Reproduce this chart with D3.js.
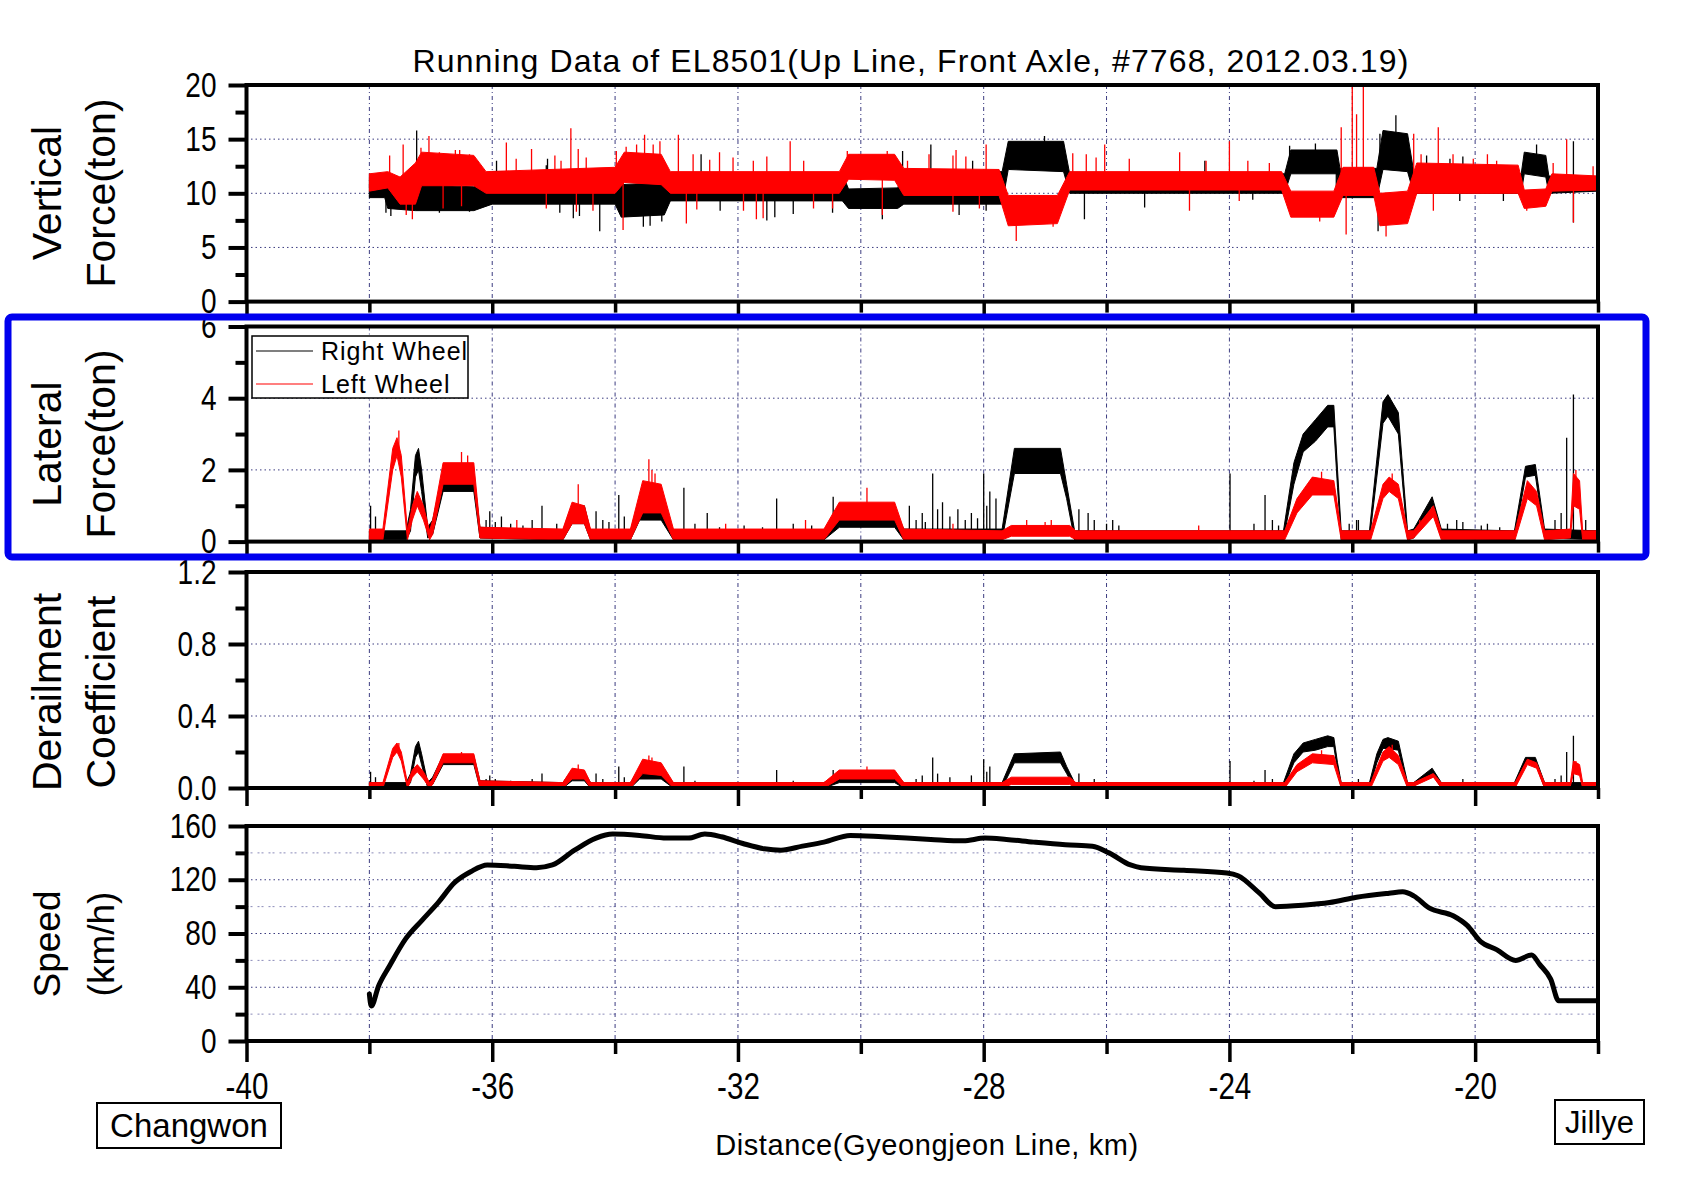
<!DOCTYPE html>
<html><head><meta charset="utf-8">
<script src="https://cdn.jsdelivr.net/npm/d3@7"></script>
<style>
html,body{margin:0;padding:0;background:#fff;}
svg{display:block;}
text{font-family:"Liberation Sans", Arial, Helvetica, sans-serif;fill:#000;}
</style></head><body>
<svg id="chart" width="1695" height="1189"></svg>
<script>
// ---------- tick labels / axes ----------
const xMajor = [-40, -36, -32, -28, -24, -20];
const xMinor = [-38, -34, -30, -26, -22, -18];
const xGrid = [-38, -36, -34, -32, -30, -28, -26, -24, -22, -20];

// ---------- Vertical force (ton): Right wheel (black) band ----------
const vfRKm = [-38, -37.75, -37.7, -37.25, -36.3, -36.0, -34.0, -33.9, -33.2, -33.1, -30.3, -30.2, -29.4, -29.3, -27.7, -27.6, -26.7, -26.6, -23.1, -23.0, -22.25, -22.2, -21.6, -21.5, -21.1, -21.0, -19.25, -19.2, -18.85, -18.8, -18.0];
const vfRLo = [9.6, 9.6, 8.6, 8.4, 8.4, 9.0, 9.0, 7.8, 8.0, 9.3, 9.3, 8.6, 8.6, 9.0, 9.0, 12.2, 12.0, 10.0, 10.0, 11.8, 11.8, 9.6, 9.6, 12.2, 12.0, 10.0, 10.0, 11.8, 11.5, 10.0, 10.2];
const vfRHi = [11.5, 11.5, 10.6, 10.8, 10.6, 12.0, 12.0, 10.8, 11.0, 11.8, 11.8, 10.4, 10.5, 12.0, 12.0, 14.8, 14.8, 11.8, 11.8, 14.0, 14.0, 12.3, 12.3, 15.8, 15.5, 12.0, 11.8, 13.8, 13.5, 11.6, 11.4];
const vfRSpikeKm = [-37.23, -36.9, -35.93, -35.1, -34.25, -33.54, -32.6, -31.4, -28.86, -27.01, -26.36, -29.65, -24.4, -22.6, -21.29, -21.58, -20.2, -18.4, -18.4, -36.23, -35.12, -37.73, -37.65, -36.86, -36.37, -34.9, -34.68, -34.58, -33.43, -33.24, -32.29, -31.53, -31.1, -29.32, -28.18, -30.46, -28.4, -27.96, -25.38, -23.02, -21.55, -20.79, -20.41, -19.0, -23.62, -22.26, -20.25, -19.54];
const vfRSpikeVal = [15.8, 13.5, 13.0, 13.2, 6.5, 6.9, 13.6, 7.8, 14.5, 15.3, 7.6, 7.6, 13.0, 14.6, 17.2, 6.5, 13.4, 14.8, 7.3, 12.9, 12.6, 8.2, 7.9, 8.2, 8.3, 8.2, 7.7, 7.9, 7.0, 7.4, 8.4, 7.5, 8.1, 13.9, 13.0, 8.2, 8.0, 8.4, 8.7, 14.4, 15.5, 13.5, 13.2, 14.5, 9.4, 9.0, 9.3, 9.3];
// Left wheel (red)
const vfLKm = [-38, -37.7, -37.5, -37.25, -37.15, -36.3, -36.1, -34.0, -33.85, -33.25, -33.1, -30.35, -30.2, -29.45, -29.3, -27.75, -27.6, -26.8, -26.6, -23.15, -23.0, -22.3, -22.15, -21.65, -21.55, -21.1, -20.95, -19.3, -19.2, -18.85, -18.75, -18.0];
const vfLLo = [10.2, 10.5, 9.0, 9.0, 10.7, 10.7, 10.0, 10.0, 11.0, 10.8, 10.0, 10.0, 11.3, 11.2, 9.8, 9.8, 7.0, 7.2, 10.3, 10.3, 7.8, 7.8, 9.8, 9.8, 7.0, 7.2, 10.0, 10.0, 8.6, 8.8, 10.2, 10.3];
const vfLHi = [11.8, 12.0, 11.5, 12.8, 13.8, 13.5, 12.0, 12.4, 13.8, 13.6, 12.0, 12.0, 13.6, 13.6, 12.3, 12.2, 9.8, 9.8, 12.0, 12.0, 10.2, 10.2, 12.4, 12.4, 10.0, 10.2, 12.8, 12.6, 10.3, 10.4, 11.8, 11.6];
const vfLSpikeKm = [-37.45, -37.03, -36.6, -35.77, -35.36, -34.72, -34.6, -33.98, -33.52, -32.97, -32.3, -31.15, -29.57, -28.5, -27.96, -26.03, -24.81, -24.0, -22.18, -22.0, -21.93, -21.82, -21.0, -20.6, -19.8, -18.51,
  -37.67, -37.16, -36.86, -36.72, -36.53, -36.37, -35.61, -34.98, -34.88, -34.47, -33.82, -33.65, -33.38, -33.27, -32.73, -32.46, -32.08, -31.75, -31.53, -30.93, -30.22, -30.03, -29.24, -28.89, -28.45, -28.29, -26.55, -26.33, -26.17, -25.63, -24.38, -23.7, -23.35, -20.88, -20.36, -20.03, -19.65, -18.73, -18.08,
  -37.3, -33.87, -32.84, -31.7, -27.47, -24.65, -22.1, -19.16, -37.4, -36.8, -36.5, -35.12, -34.63, -34.36, -32.67, -31.91, -31.59, -30.77, -30.46, -29.65, -28.5, -28.07, -26.87, -23.84, -23.02, -22.53, -21.45, -20.68, -18.4];
const vfLSpikeVal = [14.5, 15.3, 14.0, 14.7, 14.1, 16.0, 14.1, 13.9, 15.4, 15.4, 13.8, 14.8, 13.9, 13.5, 14.5, 14.5, 13.8, 14.8, 16.1, 21, 17.3, 21, 15.5, 16.1, 13.6, 15.0,
  13.5, 14.2, 13.8, 13.4, 14.0, 13.6, 13.2, 13.5, 13.0, 13.3, 14.3, 14.5, 14.5, 14.8, 13.6, 13.1, 13.3, 13.0, 13.4, 13.0, 13.9, 13.6, 13.0, 13.6, 14.0, 13.4, 13.7, 13.6, 13.3, 13.2, 13.0, 13.0, 12.8, 13.6, 13.6, 13.2, 13.0, 12.8, 12.5,
  7.6, 6.6, 7.2, 7.6, 5.6, 8.4, 6.2, 8.4, 8.0, 8.6, 8.8, 8.6, 8.3, 8.4, 8.5, 8.4, 7.7, 8.6, 8.6, 8.0, 8.3, 8.6, 6.9, 9.3, 8.4, 7.4, 6.0, 8.4, 7.3];

// ---------- Lateral force (ton) ----------
const latRKm = [-38.0, -37.4, -37.33, -37.25, -37.2, -37.15, -37.05, -36.97, -36.8, -36.3, -36.2, -34.85, -34.7, -34.5, -34.4, -33.75, -33.6, -33.25, -33.05, -30.6, -30.35, -29.45, -29.3, -27.7, -27.5, -26.75, -26.65, -26.52, -23.12, -22.95, -22.8, -22.6, -22.4, -22.3, -22.24, -22.18, -21.72, -21.6, -21.5, -21.42, -21.25, -21.16, -21.1, -21.0, -20.7, -20.55, -19.36, -19.18, -19.02, -18.87, -18.0];
const latRLo = [0.05, 0.05, 0.3, 1.8, 2.0, 1.4, 0.1, 0.2, 1.4, 1.4, 0.1, 0.05, 0.5, 0.5, 0.05, 0.05, 0.6, 0.6, 0.05, 0.05, 0.4, 0.4, 0.05, 0.05, 1.9, 1.9, 1.2, 0.05, 0.05, 1.6, 2.5, 2.8, 3.2, 3.2, 1.5, 0.05, 0.05, 1.8, 3.3, 3.5, 3.0, 1.2, 0.05, 0.1, 1.0, 0.1, 0.05, 1.8, 1.85, 0.1, 0.05];
const latRHi = [0.3, 0.3, 0.9, 2.4, 2.6, 2.0, 0.4, 0.6, 1.9, 1.9, 0.4, 0.3, 1.0, 1.0, 0.3, 0.3, 1.2, 1.1, 0.3, 0.3, 0.9, 0.9, 0.35, 0.35, 2.6, 2.6, 1.6, 0.3, 0.3, 2.2, 3.0, 3.4, 3.8, 3.8, 2.0, 0.3, 0.3, 2.3, 3.9, 4.1, 3.6, 1.6, 0.3, 0.35, 1.25, 0.35, 0.3, 2.1, 2.15, 0.35, 0.3];
const latRSpikeKm = [-37.98, -36.04, -35.85, -35.19, -34.31, -33.94, -32.88, -32.5, -31.37, -30.45, -29.21, -28.83, -28.67, -28.42, -28.0, -27.9, -27.8, -26.3, -25.9, -23.99, -23.42, -21.93, -20.3, -19.8, -18.51, -18.4,
  -37.9, -36.1, -35.95, -35.7, -35.5, -35.35, -34.95, -34.2, -34.1, -33.85, -32.7, -32.3, -31.9, -31.6, -31.1, -30.8, -29.1, -29.0, -28.95, -28.75, -28.55, -28.3, -28.2, -28.1, -27.95, -26.45, -26.2, -26.0, -25.8, -23.6, -23.3, -23.2, -22.05, -21.9, -20.9, -20.45, -20.2, -19.9, -19.6, -18.7, -18.6, -18.2];
const latRSpikeVal = [1.0, 0.85, 0.7, 1.0, 0.85, 1.3, 1.5, 0.8, 1.2, 1.25, 1.0, 1.9, 1.1, 0.9, 1.9, 1.4, 1.2, 0.8, 0.6, 1.9, 1.3, 0.6, 0.6, 0.5, 2.9, 4.1,
  0.7, 0.6, 0.55, 0.5, 0.45, 0.6, 0.5, 0.6, 0.55, 0.7, 0.5, 0.4, 0.45, 0.4, 0.5, 0.45, 0.6, 0.8, 0.55, 0.9, 0.7, 0.6, 0.8, 0.65, 1.0, 0.9, 0.6, 0.5, 0.45, 0.5, 0.6, 0.45, 0.5, 0.6, 0.6, 0.5, 0.55, 0.45, 0.4, 0.6, 0.8, 0.6];
const latLKm = [-38.0, -37.78, -37.62, -37.55, -37.48, -37.38, -37.3, -37.22, -37.12, -37.02, -36.97, -36.8, -36.3, -36.2, -34.85, -34.7, -34.5, -34.4, -33.75, -33.55, -33.25, -33.05, -30.6, -30.35, -29.45, -29.3, -27.7, -27.55, -26.6, -26.5, -23.1, -22.9, -22.65, -22.3, -22.18, -21.7, -21.5, -21.4, -21.25, -21.1, -21.0, -20.68, -20.55, -19.35, -19.15, -19.0, -18.87, -18.45, -18.4, -18.3, -18.25, -18.0];
const latLLo = [0.05, 0.05, 2.0, 2.4, 1.8, 0.05, 0.6, 1.0, 0.6, 0.05, 0.2, 1.6, 1.6, 0.1, 0.05, 0.5, 0.5, 0.05, 0.05, 0.8, 0.8, 0.05, 0.05, 0.6, 0.6, 0.05, 0.05, 0.15, 0.15, 0.05, 0.05, 0.8, 1.3, 1.3, 0.05, 0.05, 1.2, 1.4, 1.2, 0.05, 0.1, 0.7, 0.05, 0.05, 1.2, 1.0, 0.05, 0.1, 1.0, 0.9, 0.05, 0.05];
const latLHi = [0.35, 0.35, 2.6, 2.9, 2.4, 0.3, 1.0, 1.4, 1.0, 0.3, 0.6, 2.2, 2.2, 0.4, 0.35, 1.1, 1.0, 0.35, 0.35, 1.7, 1.6, 0.35, 0.35, 1.1, 1.1, 0.35, 0.3, 0.45, 0.45, 0.3, 0.3, 1.2, 1.8, 1.7, 0.3, 0.3, 1.6, 1.8, 1.6, 0.3, 0.3, 1.0, 0.3, 0.3, 1.7, 1.4, 0.3, 0.35, 1.9, 1.7, 0.3, 0.3];
const latLSpikeKm = [-37.52, -35.6, -34.6, -33.45, -32.2, -30.9, -29.9, -28.5, -26.9, -24.5, -20.9, -18.36, -36.5, -36.4, -33.4, -33.35, -27.3, -27.0, -22.5, -21.35];
const latLSpikeVal = [3.1, 0.6, 1.6, 2.3, 0.5, 0.6, 1.5, 0.5, 0.6, 0.45, 0.6, 2.0, 2.5, 2.4, 2.0, 1.9, 0.6, 0.55, 1.95, 1.9];

// ---------- Derailment coefficient ----------
const drRKm = [-38.0, -37.4, -37.33, -37.25, -37.2, -37.15, -37.05, -36.97, -36.8, -36.3, -36.2, -34.85, -34.7, -34.5, -34.4, -33.75, -33.6, -33.25, -33.05, -30.6, -30.35, -29.45, -29.3, -27.7, -27.5, -26.75, -26.65, -26.52, -23.12, -22.95, -22.8, -22.6, -22.4, -22.3, -22.24, -22.18, -21.72, -21.6, -21.5, -21.42, -21.25, -21.16, -21.1, -21.0, -20.7, -20.55, -19.36, -19.18, -19.02, -18.87, -18.0];
const drRLo = [0, 0, 0.03, 0.17, 0.2, 0.13, 0, 0.02, 0.13, 0.13, 0, 0, 0.04, 0.04, 0, 0, 0.05, 0.05, 0, 0, 0.03, 0.03, 0, 0, 0.14, 0.14, 0.08, 0, 0, 0.14, 0.2, 0.21, 0.23, 0.23, 0.1, 0, 0, 0.14, 0.22, 0.22, 0.21, 0.08, 0, 0.01, 0.08, 0, 0, 0.14, 0.14, 0, 0];
const drRHi = [0.03, 0.03, 0.08, 0.23, 0.26, 0.19, 0.03, 0.06, 0.18, 0.18, 0.04, 0.03, 0.1, 0.09, 0.03, 0.03, 0.11, 0.1, 0.03, 0.03, 0.08, 0.08, 0.03, 0.03, 0.19, 0.2, 0.12, 0.03, 0.03, 0.19, 0.25, 0.27, 0.29, 0.28, 0.14, 0.03, 0.03, 0.19, 0.27, 0.28, 0.26, 0.12, 0.03, 0.03, 0.11, 0.03, 0.03, 0.17, 0.17, 0.03, 0.03];
const drRSpikeKm = [-37.98, -36.04, -35.19, -34.31, -33.94, -32.88, -31.37, -30.45, -28.83, -28.0, -27.9, -23.99, -23.42, -18.51, -18.4,
  -37.9, -36.1, -35.95, -35.7, -35.35, -34.2, -33.85, -32.7, -31.1, -29.1, -29.0, -28.75, -28.55, -28.2, -27.95, -26.45, -26.2, -23.6, -23.3, -21.9, -20.9, -20.2, -18.7, -18.6];
const drRSpikeVal = [0.09, 0.07, 0.08, 0.08, 0.12, 0.12, 0.1, 0.1, 0.17, 0.16, 0.12, 0.15, 0.1, 0.2, 0.29,
  0.06, 0.05, 0.05, 0.04, 0.05, 0.05, 0.06, 0.04, 0.04, 0.05, 0.07, 0.08, 0.06, 0.07, 0.09, 0.08, 0.05, 0.04, 0.05, 0.05, 0.05, 0.05, 0.05, 0.07];
const drLKm = [-38.0, -37.78, -37.62, -37.55, -37.48, -37.38, -37.3, -37.22, -37.12, -37.02, -36.97, -36.8, -36.3, -36.2, -34.85, -34.7, -34.5, -34.4, -33.75, -33.55, -33.25, -33.05, -30.6, -30.35, -29.45, -29.3, -27.7, -27.55, -26.6, -26.5, -23.1, -22.9, -22.65, -22.3, -22.18, -21.7, -21.5, -21.4, -21.25, -21.1, -21.0, -20.68, -20.55, -19.35, -19.15, -19.0, -18.87, -18.45, -18.4, -18.3, -18.25, -18.0];
const drLLo = [0, 0, 0.17, 0.2, 0.15, 0, 0.06, 0.09, 0.05, 0, 0.02, 0.14, 0.14, 0, 0, 0.05, 0.05, 0, 0, 0.08, 0.07, 0, 0, 0.05, 0.05, 0, 0, 0.02, 0.02, 0, 0, 0.09, 0.14, 0.13, 0, 0, 0.15, 0.17, 0.13, 0, 0.01, 0.06, 0, 0, 0.13, 0.11, 0, 0.01, 0.08, 0.07, 0, 0];
const drLHi = [0.03, 0.03, 0.22, 0.25, 0.2, 0.03, 0.1, 0.13, 0.09, 0.03, 0.05, 0.19, 0.19, 0.04, 0.03, 0.11, 0.1, 0.03, 0.03, 0.16, 0.14, 0.03, 0.03, 0.1, 0.1, 0.03, 0.03, 0.06, 0.06, 0.03, 0.03, 0.13, 0.19, 0.18, 0.03, 0.03, 0.2, 0.23, 0.18, 0.03, 0.03, 0.08, 0.03, 0.03, 0.16, 0.14, 0.03, 0.03, 0.15, 0.13, 0.03, 0.03];
const drLSpikeKm = [-37.52, -34.6, -33.45, -29.9, -18.36, -36.5, -33.4, -22.5, -21.35];
const drLSpikeVal = [0.25, 0.13, 0.18, 0.12, 0.15, 0.2, 0.17, 0.21, 0.24];

// ---------- Speed (km/h) ----------
const speedKm = [-38.0, -37.97, -37.85, -37.67, -37.41, -37.14, -36.88, -36.61, -36.35, -36.08, -35.64, -35.28, -35.02, -34.66, -34.31, -34.04, -33.6, -33.16, -32.81, -32.54, -32.27, -31.92, -31.57, -31.3, -30.95, -30.6, -30.17, -29.65, -28.86, -28.33, -27.98, -27.63, -27.19, -26.67, -26.23, -25.96, -25.61, -25.44, -24.74, -24.04, -23.86, -23.51, -23.25, -22.81, -22.37, -21.93, -21.4, -21.18, -21.0, -20.75, -20.35, -20.13, -19.91, -19.65, -19.34, -19.08, -18.95, -18.77, -18.64, -18.03];
const speedVal = [35, 26, 41, 56, 76, 90, 103, 118, 126, 131, 130, 129, 131, 142, 151, 154, 153, 151, 151, 154, 152, 147, 143, 142, 145, 148, 153, 152, 150, 149, 151, 150, 148, 146, 145, 140, 131, 129, 127, 125, 123, 110, 100, 101, 103, 107, 110, 111, 108, 99, 93, 86, 74, 68, 60, 64, 57, 46, 30, 30];

const seriesNames = ["Right Wheel", "Left Wheel"];
const seriesColors = ["#000000", "#ff0000"];

// ---------- drawing ----------
const svg = d3.select('#chart');
const x = d3.scaleLinear().domain([-40, -18]).range([246.5, 1598]);
const NARROW = 0.8;

const panels = [
  {top: 85, bottom: 301.6, dom: [0, 20], major: [0, 5, 10, 15, 20], minor: [2.5, 7.5, 12.5, 17.5], grid: [5, 10, 15], gridMinor: [], fmt: d => String(d), title: ["Vertical", "Force(ton)"], tSize: 41, tY: 193},
  {top: 326.5, bottom: 541.6, dom: [0, 6], major: [0, 2, 4, 6], minor: [1, 3, 5], grid: [2, 4], gridMinor: [], fmt: d => String(d), title: ["Lateral", "Force(ton)"], tSize: 41, tY: 444},
  {top: 572, bottom: 788, dom: [0, 1.2], major: [0, 0.4, 0.8, 1.2], minor: [0.2, 0.6, 1.0], grid: [0.4, 0.8], gridMinor: [], fmt: d3.format('.1f'), title: ["Derailment", "Coefficient"], tSize: 41, tY: 692},
  {top: 826, bottom: 1041, dom: [0, 160], major: [0, 40, 80, 120, 160], minor: [20, 60, 100, 140], grid: [40, 80, 120], gridMinor: [20, 60, 100, 140], fmt: d => String(d), title: ["Speed", "(km/h)"], tSize: 37, tY: 944}
];

const defs = svg.append('defs');

function drawBand(g, y, km, lo, hi, color) {
  const pts = km.map((k, i) => [k, lo[i], hi[i]]);
  g.append('path')
    .attr('d', d3.area().x(d => x(d[0])).y0(d => y(d[1])).y1(d => y(d[2]))(pts))
    .attr('fill', color).attr('stroke', color).attr('stroke-width', 1).attr('stroke-linejoin', 'round');
}
function drawSpikes(g, y, sKm, sVal, km, lo, hi, color) {
  const mid = d3.scaleLinear().domain(km).range(km.map((k, i) => (lo[i] + hi[i]) / 2)).clamp(true);
  g.selectAll(null).data(sKm.map((k, i) => [k, sVal[i]])).join('line')
    .attr('x1', d => x(d[0])).attr('x2', d => x(d[0]))
    .attr('y1', d => y(mid(d[0]))).attr('y2', d => y(d[1]))
    .attr('stroke', color).attr('stroke-width', 1.3);
}

panels.forEach((p, idx) => {
  const y = d3.scaleLinear().domain(p.dom).range([p.bottom, p.top]);
  const g = svg.append('g');
  g.selectAll(null).data(p.gridMinor).join('line')
    .attr('x1', x(-40)).attr('x2', x(-18)).attr('y1', d => y(d)).attr('y2', d => y(d))
    .attr('stroke', '#8a8ab8').attr('stroke-width', 1).attr('stroke-dasharray', '2,2,2,5');
  g.selectAll(null).data(p.grid).join('line')
    .attr('x1', x(-40)).attr('x2', x(-18)).attr('y1', d => y(d)).attr('y2', d => y(d))
    .attr('stroke', '#3c3c80').attr('stroke-width', 1).attr('stroke-dasharray', '1.5,3');
  g.selectAll(null).data(xGrid).join('line')
    .attr('x1', d => x(d)).attr('x2', d => x(d)).attr('y1', p.top).attr('y2', p.bottom)
    .attr('stroke', '#3c3c80').attr('stroke-width', 1).attr('stroke-dasharray', '4,3,1,3');

  const cid = 'clip' + idx;
  defs.append('clipPath').attr('id', cid).append('rect')
    .attr('x', x(-40)).attr('y', p.top).attr('width', x(-18) - x(-40)).attr('height', p.bottom - p.top);
  const dg = g.append('g').attr('clip-path', `url(#${cid})`);

  if (idx === 0) {
    drawSpikes(dg, y, vfRSpikeKm, vfRSpikeVal, vfRKm, vfRLo, vfRHi, seriesColors[0]);
    drawBand(dg, y, vfRKm, vfRLo, vfRHi, seriesColors[0]);
    drawBand(dg, y, vfLKm, vfLLo, vfLHi, seriesColors[1]);
    drawSpikes(dg, y, vfLSpikeKm, vfLSpikeVal, vfLKm, vfLLo, vfLHi, seriesColors[1]);
  } else if (idx === 1) {
    drawSpikes(dg, y, latRSpikeKm, latRSpikeVal, latRKm, latRLo, latRHi, seriesColors[0]);
    drawBand(dg, y, latRKm, latRLo, latRHi, seriesColors[0]);
    drawBand(dg, y, latLKm, latLLo, latLHi, seriesColors[1]);
    drawSpikes(dg, y, latLSpikeKm, latLSpikeVal, latLKm, latLLo, latLHi, seriesColors[1]);
  } else if (idx === 2) {
    drawSpikes(dg, y, drRSpikeKm, drRSpikeVal, drRKm, drRLo, drRHi, seriesColors[0]);
    drawBand(dg, y, drRKm, drRLo, drRHi, seriesColors[0]);
    drawBand(dg, y, drLKm, drLLo, drLHi, seriesColors[1]);
    drawSpikes(dg, y, drLSpikeKm, drLSpikeVal, drLKm, drLLo, drLHi, seriesColors[1]);
  } else {
    const pts = speedKm.map((k, i) => [k, speedVal[i]]);
    dg.append('path').attr('d', d3.line().x(d => x(d[0])).y(d => y(d[1])).curve(d3.curveMonotoneX)(pts))
      .attr('fill', 'none').attr('stroke', '#000').attr('stroke-width', 5).attr('stroke-linejoin', 'round').attr('stroke-linecap', 'round');
  }

  g.append('rect').attr('x', x(-40)).attr('y', p.top).attr('width', x(-18) - x(-40)).attr('height', p.bottom - p.top)
    .attr('fill', 'none').attr('stroke', '#000').attr('stroke-width', 4);

  const ya = g.append('g').attr('transform', `translate(${x(-40)},0)`)
    .call(d3.axisLeft(y).tickValues(p.major).tickSize(18).tickPadding(12).tickFormat(p.fmt));
  const ym = g.append('g').attr('transform', `translate(${x(-40)},0)`)
    .call(d3.axisLeft(y).tickValues(p.minor).tickSize(11).tickFormat(''));
  [ya, ym].forEach(a => { a.select('.domain').remove(); a.selectAll('line').attr('stroke', '#000').attr('stroke-width', 4); });
  ya.selectAll('text').style('font-size', '35px').attr('fill', '#000')
    .attr('x', -30 / NARROW).attr('transform', `scale(${NARROW},1)`);

  const last = idx === panels.length - 1;
  const xa = g.append('g').attr('transform', `translate(0,${p.bottom})`)
    .call(d3.axisBottom(x).tickValues(xMajor).tickSize(last ? 21 : 18).tickPadding(11).tickFormat(last ? (d => String(d)) : ''));
  const xm = g.append('g').attr('transform', `translate(0,${p.bottom})`)
    .call(d3.axisBottom(x).tickValues(xMinor).tickSize(last ? 13 : 11).tickFormat(''));
  [xa, xm].forEach(a => { a.select('.domain').remove(); a.selectAll('line').attr('stroke', '#000').attr('stroke-width', 3.5); });
  xa.selectAll('text').style('font-size', '37px').attr('fill', '#000').attr('transform', `scale(${NARROW},1)`);

  const tg = svg.append('g');
  [46.5, 100.5].forEach((cx, j) => {
    tg.append('text').attr('transform', `translate(${cx},${p.tY}) rotate(-90)`)
      .attr('text-anchor', 'middle').attr('dy', '0.36em').style('font-size', p.tSize + 'px')
      .text(p.title[j]);
  });
});

// legend
const lg = svg.append('g');
lg.append('rect').attr('x', 252).attr('y', 336).attr('width', 216).attr('height', 62)
  .attr('fill', '#fff').attr('stroke', '#000').attr('stroke-width', 1.5);
seriesNames.forEach((n, i) => {
  const yy = 351 + i * 33;
  lg.append('line').attr('x1', 256).attr('x2', 313).attr('y1', yy).attr('y2', yy).attr('stroke', seriesColors[i]).attr('stroke-width', 1.2);
  lg.append('text').attr('x', 321).attr('y', yy + 9).style('font-size', '25px').style('letter-spacing', '1px').text(n);
});

svg.append('text').attr('x', 911).attr('y', 72).attr('text-anchor', 'middle').style('font-size', '32px').style('letter-spacing', '1.1px')
  .text('Running Data of EL8501(Up Line, Front Axle, #7768, 2012.03.19)');

svg.append('text').attr('x', 927).attr('y', 1155).attr('text-anchor', 'middle').style('font-size', '29px').style('letter-spacing', '0.6px')
  .text('Distance(Gyeongjeon Line, km)');

svg.append('rect').attr('x', 97).attr('y', 1103).attr('width', 184).attr('height', 45).attr('fill', 'none').attr('stroke', '#000').attr('stroke-width', 2);
svg.append('text').attr('x', 189).attr('y', 1137).attr('text-anchor', 'middle').style('font-size', '33px').text('Changwon');
svg.append('rect').attr('x', 1555).attr('y', 1100).attr('width', 89).attr('height', 44).attr('fill', 'none').attr('stroke', '#000').attr('stroke-width', 2);
svg.append('text').attr('x', 1599.5).attr('y', 1133).attr('text-anchor', 'middle').style('font-size', '31px').text('Jillye');

svg.append('rect').attr('x', 8).attr('y', 317).attr('width', 1638).attr('height', 240).attr('rx', 4)
  .attr('fill', 'none').attr('stroke', '#0000ee').attr('stroke-width', 7);
</script>
</body></html>
